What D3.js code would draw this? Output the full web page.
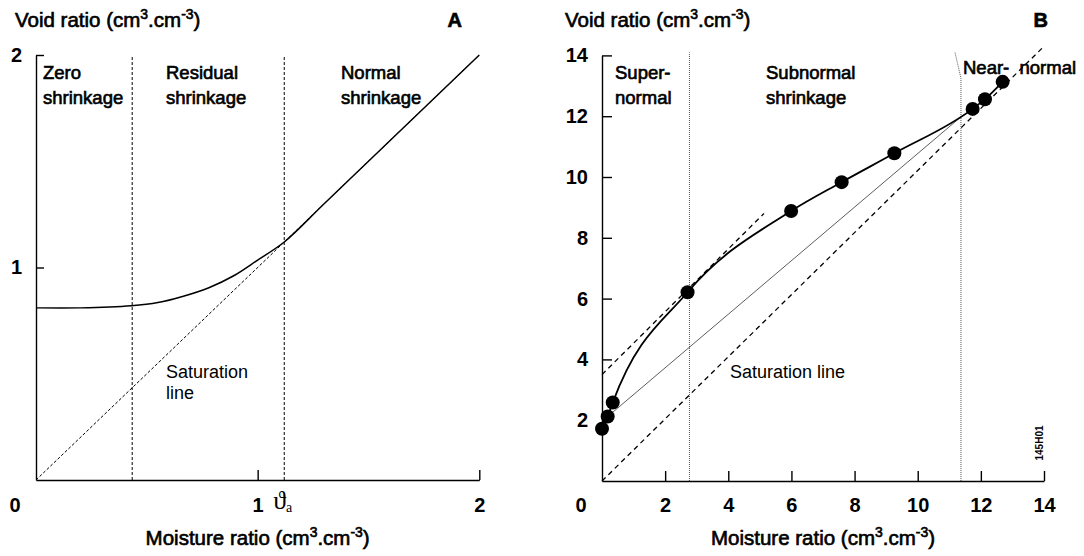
<!DOCTYPE html>
<html><head><meta charset="utf-8">
<script src="https://cdn.jsdelivr.net/npm/d3@7"></script>
<style>
body{margin:0;background:#fff;}
svg{display:block;font-family:"Liberation Sans",Arial,sans-serif;}
</style></head><body>
<svg id="c" width="1084" height="556"></svg>
<script>
// ---------- Panel A data ----------
const aTicksX = [1, 2];
const aTicksY = [1, 2];
const aCurveX = [0, 0.2, 0.43, 0.55, 0.665, 0.78, 0.89, 1.0, 1.12, 1.3, 1.6, 2.0];
const aCurveY = [0.81, 0.81, 0.82, 0.835, 0.865, 0.905, 0.96, 1.035, 1.12, 1.3, 1.6, 2.0];
const aSatX = [0, 2];
const aSatY = [0, 2];
const aBounds = [0.434, 1.12];
const aRegions = [["Zero", "shrinkage"], ["Residual", "shrinkage"], ["Normal", "shrinkage"]];

// ---------- Panel B data ----------
const bTicksX = [2, 4, 6, 8, 10, 12, 14];
const bTicksY = [2, 4, 6, 8, 10, 12, 14];
const bMoisture = [0, 0.18, 0.34, 2.71, 5.99, 7.59, 9.26, 11.74, 12.13, 12.69];
const bVoid = [1.72, 2.12, 2.58, 6.21, 8.88, 9.83, 10.78, 12.24, 12.56, 13.13];
const bSatX = [0, 14];
const bSatY = [0, 14.3];
const bTanX = [0, 5.13];
const bTanY = [3.5, 8.8];
const bRefX = [0.18, 11.44];
const bRefY = [2.12, 12.04];
const bSuperBound = 2.77;
const bNearX = [11.37, 11.37, 11.18];
const bNearY = [0, 13.25, 14.1];
const bRegions = [["Super-", "normal"], ["Subnormal", "shrinkage"]];

const svg = d3.select("#c");

function heavy(t, size) {
  return t.attr("font-size", size).attr("fill", "#000").attr("stroke", "#000").attr("stroke-width", 0.65);
}

function title(g, x, y, main, anchor, size) {
  const t = heavy(g.append("text").attr("x", x).attr("y", y).attr("text-anchor", anchor || "start"), size);
  t.append("tspan").text(main + " (cm");
  t.append("tspan").attr("font-size", size * 0.68).attr("dy", -8).text("3");
  t.append("tspan").attr("dy", 8).text(".cm");
  t.append("tspan").attr("font-size", size * 0.68).attr("dy", -8).text("-3");
  t.append("tspan").attr("dy", 8).text(")");
}

function styleAxis(g) {
  g.selectAll("path.domain").attr("stroke", "#000").attr("stroke-width", 1.4);
  g.selectAll(".tick line").attr("stroke", "#000").attr("stroke-width", 1.4);
  g.selectAll(".tick text").attr("fill", "#000").attr("font-size", 20)
    .attr("font-weight", "bold").attr("font-family", "Liberation Sans, Arial, sans-serif");
}

// ================= PANEL A =================
const xA = d3.scaleLinear().domain([0, 2]).range([36, 479.3]);
const yA = d3.scaleLinear().domain([0, 2]).range([480, 55]);
const gA = svg.append("g");

aBounds.forEach(b => {
  gA.append("line").attr("x1", xA(b)).attr("x2", xA(b)).attr("y1", yA(0)).attr("y2", yA(2))
    .attr("stroke", "#000").attr("stroke-width", 1).attr("stroke-dasharray", "3,2");
});
gA.append("path")
  .attr("d", d3.line().x(d => xA(d[0])).y(d => yA(d[1]))(aSatX.map((v, i) => [v, aSatY[i]])))
  .attr("fill", "none").attr("stroke", "#000").attr("stroke-width", 1).attr("stroke-dasharray", "3,2");
gA.append("path")
  .attr("d", d3.line().curve(d3.curveCatmullRom.alpha(0.5)).x(d => xA(d[0])).y(d => yA(d[1]))(aCurveX.map((v, i) => [v, aCurveY[i]])))
  .attr("fill", "none").attr("stroke", "#000").attr("stroke-width", 1.5);

const axA_x = gA.append("g").attr("transform", `translate(0,${yA(0)})`)
  .call(d3.axisBottom(xA).tickValues(aTicksX).tickFormat(d3.format("d")).tickSize(-10).tickSizeOuter(0).tickPadding(18));
const axA_y = gA.append("g").attr("transform", `translate(${xA(0)},0)`)
  .call(d3.axisLeft(yA).tickValues(aTicksY).tickFormat(d3.format("d")).tickSize(-8).tickSizeOuter(0).tickPadding(14));
styleAxis(axA_x); styleAxis(axA_y);
gA.append("text").attr("x", 15).attr("y", yA(0) + 32).attr("text-anchor", "middle")
  .attr("font-size", 20).attr("font-weight", "bold").text("0");
const th = gA.append("text").attr("x", xA(aBounds[1]) - 11).attr("y", yA(0) + 29)
  .attr("font-family", "Liberation Serif, Times New Roman, serif").attr("font-size", 26);
th.append("tspan").text("\u03D1");
th.append("tspan").attr("font-size", 14).attr("dy", 3).text("a");

title(gA, 15, 27, "Void ratio", "start", 20.5);
title(gA, (xA(0) + xA(2)) / 2, 545, "Moisture ratio", "middle", 20.5);
heavy(gA.append("text").attr("x", 462).attr("y", 27).attr("text-anchor", "end"), 20)
  .attr("font-weight", "bold").text("A");

const aLabelX = [43, 166, 341];
aRegions.forEach((r, i) => {
  r.forEach((s, j) => {
    heavy(gA.append("text").attr("x", aLabelX[i]).attr("y", 79 + j * 25), 18.5).text(s);
  });
});
gA.append("text").attr("x", 166).attr("y", 378).attr("font-size", 18).text("Saturation");
gA.append("text").attr("x", 166).attr("y", 399).attr("font-size", 18).text("line");

// ================= PANEL B =================
const xB = d3.scaleLinear().domain([0, 14]).range([602, 1044]);
const yB = d3.scaleLinear().domain([0, 14]).range([481, 55.4]);
const gB = svg.append("g");

gB.append("line").attr("x1", xB(bSuperBound)).attr("x2", xB(bSuperBound)).attr("y1", yB(0)).attr("y2", yB(14.1))
  .attr("stroke", "#555").attr("stroke-width", 1).attr("stroke-dasharray", "1,1");
gB.append("path")
  .attr("d", d3.line().x(d => xB(d[0])).y(d => yB(d[1]))(bNearX.map((v, i) => [v, bNearY[i]])))
  .attr("fill", "none").attr("stroke", "#555").attr("stroke-width", 1).attr("stroke-dasharray", "1,1");
gB.append("path")
  .attr("d", d3.line().x(d => xB(d[0])).y(d => yB(d[1]))(bSatX.map((v, i) => [v, bSatY[i]])))
  .attr("fill", "none").attr("stroke", "#000").attr("stroke-width", 1.3).attr("stroke-dasharray", "5,4");
gB.append("path")
  .attr("d", d3.line().x(d => xB(d[0])).y(d => yB(d[1]))(bTanX.map((v, i) => [v, bTanY[i]])))
  .attr("fill", "none").attr("stroke", "#000").attr("stroke-width", 1.3).attr("stroke-dasharray", "5,4");
gB.append("path")
  .attr("d", d3.line().x(d => xB(d[0])).y(d => yB(d[1]))(bRefX.map((v, i) => [v, bRefY[i]])))
  .attr("fill", "none").attr("stroke", "#333").attr("stroke-width", 0.8);
const bPts = bMoisture.map((v, i) => [v, bVoid[i]]);
gB.append("path")
  .attr("d", d3.line().curve(d3.curveMonotoneX).x(d => xB(d[0])).y(d => yB(d[1]))(bPts))
  .attr("fill", "none").attr("stroke", "#000").attr("stroke-width", 1.8);
gB.selectAll("circle.pt").data(bPts).join("circle").attr("class", "pt")
  .attr("cx", d => xB(d[0])).attr("cy", d => yB(d[1])).attr("r", 7).attr("fill", "#000");

const axB_x = gB.append("g").attr("transform", `translate(0,${yB(0)})`)
  .call(d3.axisBottom(xB).tickValues(bTicksX).tickFormat(d3.format("d")).tickSize(-10).tickSizeOuter(0).tickPadding(17));
const axB_y = gB.append("g").attr("transform", `translate(${xB(0)},0)`)
  .call(d3.axisLeft(yB).tickValues(bTicksY).tickFormat(d3.format("d")).tickSize(-10).tickSizeOuter(0).tickPadding(14));
styleAxis(axB_x); styleAxis(axB_y);
gB.append("text").attr("x", 581).attr("y", yB(0) + 31).attr("text-anchor", "middle")
  .attr("font-size", 20).attr("font-weight", "bold").text("0");

title(gB, 565, 27, "Void ratio", "start", 20.5);
title(gB, (xB(0) + xB(14)) / 2, 545, "Moisture ratio", "middle", 20.5);
heavy(gB.append("text").attr("x", 1048).attr("y", 27).attr("text-anchor", "end"), 20)
  .attr("font-weight", "bold").text("B");

const bLabelX = [615, 766];
bRegions.forEach((r, i) => {
  r.forEach((s, j) => {
    heavy(gB.append("text").attr("x", bLabelX[i]).attr("y", 79 + j * 25), 18.5).text(s);
  });
});
heavy(gB.append("text").attr("x", 963).attr("y", 74), 18.5)
  .attr("xml:space", "preserve").style("white-space", "pre").text("Near-  normal");
gB.append("text").attr("x", 730).attr("y", 378).attr("font-size", 18).text("Saturation line");
gB.append("text").attr("transform", "translate(1043,443) rotate(-90)").attr("text-anchor", "middle")
  .attr("font-size", 10).attr("font-weight", "bold").text("145H01");
</script>
</body></html>
